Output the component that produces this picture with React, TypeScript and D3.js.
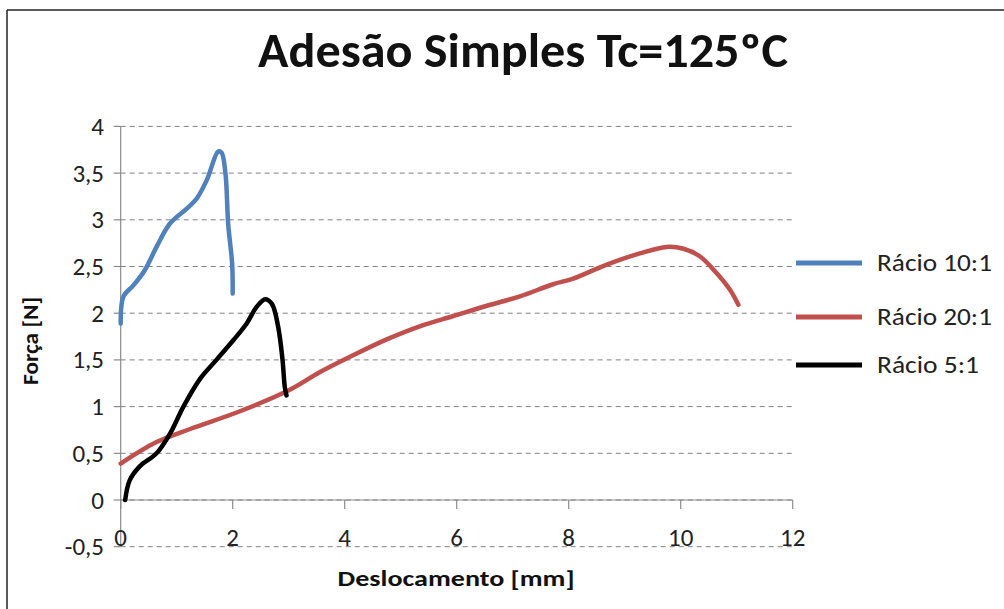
import React from "react";
import * as d3 from "d3";

const title = "Adesão Simples Tc=125ºC";
const xLabel = "Deslocamento [mm]";
const yLabel = "Força [N]";
const xTicks = [0, 2, 4, 6, 8, 10, 12];
const yTicks = [-0.5, 0, 0.5, 1, 1.5, 2, 2.5, 3, 3.5, 4];

const seriesNames = ["Rácio 10:1", "Rácio 20:1", "Rácio 5:1"];
const seriesColors = ["#4F81BD", "#C0504D", "#000000"];

const racio10: [number, number][] = [
  [0, 1.89], [0.05, 2.18], [0.23, 2.3], [0.43, 2.46], [0.64, 2.71], [0.88, 2.96],
  [1.18, 3.12], [1.36, 3.23], [1.54, 3.43], [1.74, 3.73], [1.8, 3.72], [1.87, 3.5],
  [1.92, 2.95], [1.99, 2.53], [2.0, 2.21],
];
const racio20: [number, number][] = [
  [0, 0.39], [0.64, 0.62], [1.24, 0.76], [2.13, 0.95], [3.02, 1.18], [3.56, 1.37],
  [4.15, 1.55], [4.75, 1.72], [5.34, 1.86], [5.94, 1.97], [6.54, 2.08], [7.13, 2.18],
  [7.72, 2.31], [8.08, 2.37], [8.68, 2.52], [9.27, 2.64], [9.75, 2.71], [10.05, 2.69],
  [10.34, 2.61], [10.64, 2.43], [10.88, 2.25], [11.03, 2.09],
];
const racio5: [number, number][] = [
  [0.08, 0], [0.16, 0.21], [0.34, 0.36], [0.64, 0.5], [0.88, 0.71], [1.12, 1.0],
  [1.42, 1.3], [1.71, 1.5], [2.01, 1.71], [2.25, 1.89], [2.43, 2.07], [2.58, 2.15],
  [2.7, 2.1], [2.81, 1.86], [2.89, 1.5], [2.93, 1.21], [2.96, 1.12],
];
const seriesData = [racio10, racio20, racio5];

const FONT = "Carlito, Lato, 'Open Sans', sans-serif";

export default function App() {
  const W = 1004;
  const H = 609;
  const x = d3.scaleLinear().domain([0, 12]).range([120.7, 792.7]);
  const y = d3.scaleLinear().domain([0, 4]).range([500, 126.4]);
  const line = d3
    .line<[number, number]>()
    .x((d) => x(d[0]))
    .y((d) => y(d[1]))
    .curve(d3.curveCatmullRom.alpha(0.5));
  const legendY = [263, 317, 365];
  const txt = (size: number, bold = false): React.CSSProperties => ({
    fontFamily: FONT,
    fontSize: size + "px",
    fontWeight: bold ? 700 : 400,
  });
  return (
    <svg
      width={W}
      height={H}
      style={{ position: "absolute", left: 0, top: 0, background: "#fff" }}
    >
      <rect x={0} y={0} width={W} height={H} fill="#fff" />
      <line x1={7} y1={10} x2={W} y2={10} stroke="#222" strokeWidth={1.5} />
      <line x1={7} y1={10} x2={7} y2={H} stroke="#222" strokeWidth={1.5} />
      <text
        x={523}
        y={67}
        textAnchor="middle"
        style={txt(48, true)}
        fill="#111"
        textLength={530}
        lengthAdjust="spacingAndGlyphs"
      >
        {title}
      </text>
      {yTicks.map((t) => (
        <line
          key={"g" + t}
          x1={x(0)}
          x2={x(12)}
          y1={y(t)}
          y2={y(t)}
          stroke="#808080"
          strokeWidth={1}
          strokeDasharray="5,4"
        />
      ))}
      <line x1={x(0)} x2={x(0)} y1={y(4)} y2={y(-0.5)} stroke="#8a8a8a" strokeWidth={1.2} />
      {yTicks.map((t) => {
        const s = String(t).replace(".", ",");
        return (
          <g key={"yt" + t}>
            <line x1={x(0) - 7} x2={x(0)} y1={y(t)} y2={y(t)} stroke="#8a8a8a" strokeWidth={1.2} />
            <text x={104} y={y(t) + 8.5} textAnchor="end" style={txt(25)} fill="#222">
              {s}
            </text>
          </g>
        );
      })}
      <line x1={x(0)} x2={x(12)} y1={y(0)} y2={y(0)} stroke="#8a8a8a" strokeWidth={1.2} />
      {xTicks.map((t) => (
        <g key={"xt" + t}>
          <line x1={x(t)} x2={x(t)} y1={y(0)} y2={y(0) + 9} stroke="#8a8a8a" strokeWidth={1.2} />
          <text x={x(t)} y={546} textAnchor="middle" style={txt(25)} fill="#222">
            {t}
          </text>
        </g>
      ))}
      {seriesData.map((d, i) => (
        <path
          key={"s" + i}
          d={line(d) || ""}
          fill="none"
          stroke={seriesColors[i]}
          strokeWidth={4.5}
          strokeLinejoin="round"
          strokeLinecap="round"
        />
      ))}
      <text
        x={456}
        y={586}
        textAnchor="middle"
        style={txt(23, true)}
        fill="#111"
        textLength={237}
        lengthAdjust="spacingAndGlyphs"
      >
        {xLabel}
      </text>
      <text
        transform="translate(38,341) rotate(-90)"
        textAnchor="middle"
        style={txt(23, true)}
        fill="#111"
        textLength={88}
        lengthAdjust="spacingAndGlyphs"
      >
        {yLabel}
      </text>
      {seriesNames.map((n, i) => (
        <g key={"l" + i}>
          <line x1={796} x2={862} y1={legendY[i]} y2={legendY[i]} stroke={seriesColors[i]} strokeWidth={5} />
          <text
            x={877}
            y={legendY[i] + 8}
            style={txt(24)}
            fill="#222"
            textLength={i === 2 ? 102 : 115}
            lengthAdjust="spacingAndGlyphs"
          >
            {n}
          </text>
        </g>
      ))}
    </svg>
  );
}
